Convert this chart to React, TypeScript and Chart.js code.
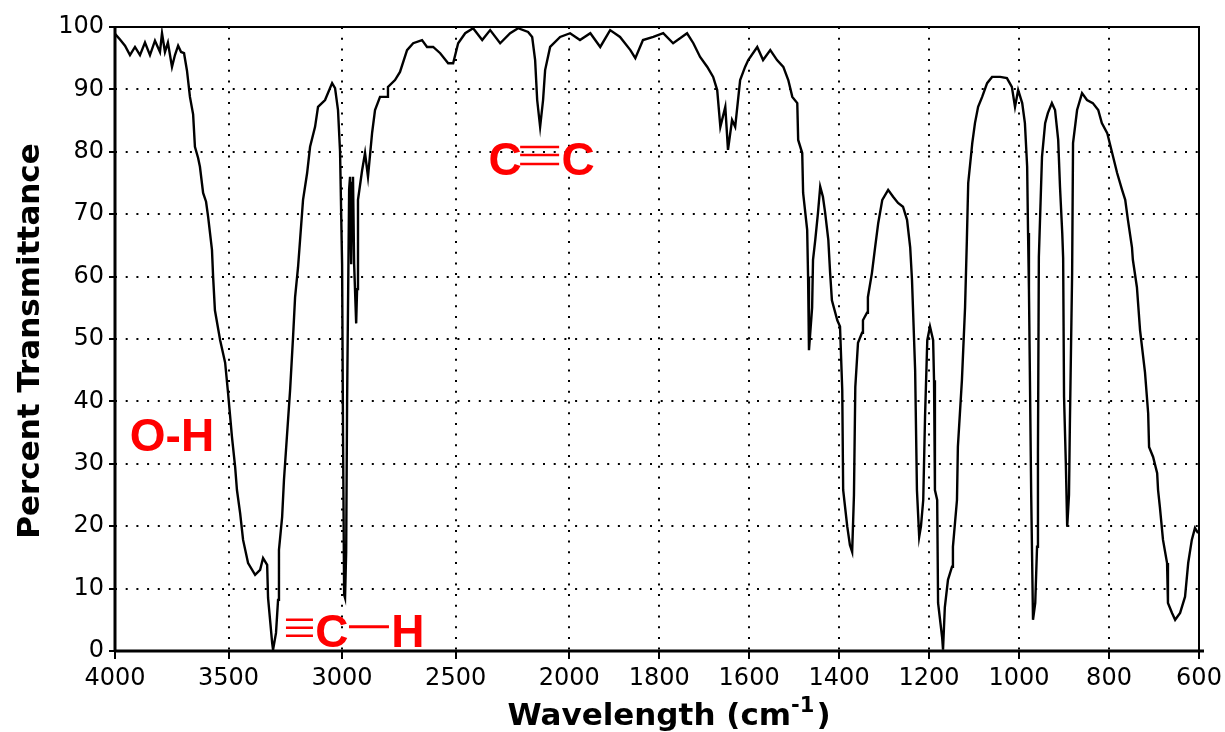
import React, { useEffect, useRef } from 'react';
import { Chart, registerables, LinearScale } from 'chart.js';

// ---- data (wavenumber in cm^-1, percent transmittance) ----
const WAVENUMBERS = [
  4000, 3978, 3956, 3934, 3912, 3890, 3868, 3846, 3824, 3802,
  3793, 3780, 3767, 3749, 3736, 3722, 3709, 3696, 3683, 3670,
  3656, 3648, 3634, 3626, 3612, 3599, 3590, 3573, 3568, 3560,
  3537, 3515, 3502, 3485, 3471, 3463, 3449, 3436, 3414, 3383,
  3361, 3348, 3330, 3326, 3308, 3304, 3291, 3282, 3278, 3264,
  3256, 3242, 3229, 3216, 3207, 3194, 3185, 3172, 3154, 3141,
  3119, 3106, 3075, 3044, 3031, 3018, 3009, 3000, 2996, 2991,
  2987, 2982, 2978, 2969, 2965, 2960, 2956, 2952, 2947, 2938,
  2934, 2930, 2912, 2899, 2886, 2868, 2855, 2833, 2802, 2798,
  2767, 2745, 2714, 2687, 2648, 2626, 2599, 2568, 2533, 2511,
  2489, 2458, 2423, 2383, 2348, 2304, 2260, 2225, 2181, 2163,
  2150, 2141, 2128, 2115, 2106, 2084, 2040, 1998, 1976, 1953,
  1931, 1909, 1887, 1864, 1853, 1836, 1813, 1791, 1769, 1738,
  1724, 1709, 1693, 1680, 1671, 1664, 1653, 1647, 1638, 1631,
  1620, 1609, 1602, 1582, 1569, 1553, 1538, 1524, 1513, 1504,
  1493, 1491, 1482, 1480, 1471, 1469, 1467, 1460, 1458, 1453,
  1447, 1442, 1436, 1431, 1424, 1420, 1416, 1404, 1398, 1393,
  1391, 1382, 1376, 1371, 1367, 1364, 1358, 1349, 1347, 1338,
  1336, 1327, 1320, 1313, 1304, 1291, 1280, 1269, 1258, 1249,
  1242, 1238, 1231, 1227, 1222, 1218, 1213, 1209, 1204, 1198,
  1191, 1189, 1187, 1182, 1180, 1171, 1169, 1165, 1158, 1149,
  1147, 1138, 1136, 1127, 1120, 1116, 1113, 1104, 1098, 1091,
  1082, 1071, 1060, 1042, 1027, 1016, 1009, 1002, 993, 987,
  982, 980, 978, 973, 969, 964, 960, 958, 956, 949,
  942, 936, 927, 920, 913, 909, 904, 902, 900, 896,
  893, 889, 887, 882, 880, 871, 860, 849, 836, 824,
  816, 804, 793, 782, 771, 764, 758, 749, 747, 738,
  731, 720, 713, 711, 702, 693, 691, 687, 680, 671,
  669, 660, 653, 642, 631, 624, 616, 609, 602,
];

const TRANSMITTANCE = [
  98.9, 98.0, 97.0, 95.5, 96.8, 95.5, 97.5, 95.5, 97.8, 96.0,
  99.0, 96.0, 97.5, 93.6, 95.5, 97.0, 96.0, 95.8, 93.0, 88.8,
  86.0, 80.8, 79.0, 77.6, 73.4, 72.0, 69.6, 64.3, 60.0, 54.6,
  49.8, 46.2, 41.3, 34.3, 29.5, 25.8, 22.1, 17.8, 14.1, 12.2,
  13.0, 14.9, 13.8, 8.5, 1.3, 0.2, 2.9, 8.2, 16.2, 21.5,
  27.4, 34.9, 41.8, 50.3, 56.7, 61.5, 65.9, 72.3, 76.6, 80.8,
  84.0, 87.2, 88.3, 91.0, 90.2, 86.7, 80.0, 62.0, 35.0, 9.0,
  8.5, 16.0, 40.0, 74.0, 76.0, 62.0, 75.0, 76.0, 62.0, 52.5,
  58.0, 72.3, 77.0, 79.8, 76.0, 83.0, 86.7, 88.8, 88.8, 90.4,
  91.5, 92.8, 96.3, 97.4, 97.9, 96.8, 96.8, 95.8, 94.2, 94.2,
  97.4, 99.0, 99.8, 97.9, 99.5, 97.4, 99.0, 99.8, 99.2, 98.4,
  94.7, 88.3, 84.0, 88.3, 93.1, 96.8, 98.4, 99.0, 97.9, 99.0,
  96.8, 99.5, 98.4, 96.3, 95.0, 97.9, 98.4, 99.0, 97.4, 99.0,
  97.4, 95.2, 93.6, 92.0, 89.9, 84.0, 87.2, 80.3, 85.1, 84.0,
  91.5, 93.6, 94.7, 96.8, 94.7, 96.3, 94.7, 93.6, 91.5, 88.8,
  87.8, 81.9, 79.8, 73.4, 67.5, 60.0, 48.2, 55.0, 62.7, 65.9,
  70.2, 74.4, 72.8, 70.2, 65.9, 60.6, 56.2, 53.0, 52.0, 41.8,
  25.8, 20.0, 17.0, 15.9, 25.0, 42.3, 49.4, 51.0, 53.0, 54.2,
  56.7, 60.6, 64.7, 68.6, 72.3, 73.9, 72.8, 71.8, 71.2, 69.1,
  64.7, 59.5, 45.0, 25.8, 18.3, 20.0, 24.2, 37.5, 49.8, 52.0,
  49.8, 43.4, 25.8, 24.2, 7.7, 2.2, 0.2, 7.0, 11.4, 13.5,
  16.7, 24.2, 32.7, 43.4, 55.1, 65.9, 75.0, 81.4, 84.6, 87.2,
  88.8, 91.0, 92.0, 92.0, 91.8, 90.4, 87.2, 89.9, 87.8, 84.6,
  77.6, 67.0, 57.9, 25.0, 5.0, 7.7, 16.7, 31.7, 63.1, 79.2,
  84.6, 86.2, 87.8, 86.7, 81.9, 74.4, 67.0, 63.0, 40.7, 30.0,
  19.9, 25.0, 36.5, 60.6, 81.4, 86.7, 89.4, 88.3, 87.8, 86.7,
  84.6, 83.0, 79.8, 76.6, 73.9, 72.3, 69.1, 64.7, 62.7, 58.3,
  51.4, 44.6, 38.1, 32.7, 31.1, 28.5, 25.8, 23.1, 17.8, 14.1,
  7.7, 6.1, 5.0, 6.1, 8.7, 14.1, 17.8, 19.7, 18.9,
];

const X_TICKS = [4000, 3500, 3000, 2500, 2000, 1800, 1600, 1400, 1200, 1000, 800, 600];
const Y_TICKS = [0, 10, 20, 30, 40, 50, 60, 70, 80, 90, 100];

const Y_TITLE = 'Percent Transmittance';
const X_TITLE_MAIN = 'Wavelength (cm';
const X_TITLE_SUP = '-1';
const X_TITLE_END = ')';

const LABEL_OH = 'O-H';
const LABEL_C = 'C';
const LABEL_H = 'H';

const RED = '#ff0000';

// The spectrometer's axis changes scale at 2000 cm^-1 (twice as spread below it).
const BREAK = 0.419;
function waveToFrac(w: number) {
  return w >= 2000 ? ((4000 - w) / 2000) * BREAK : BREAK + ((2000 - w) / 1400) * (1 - BREAK);
}
function fracToWave(d: number) {
  return d <= BREAK ? 4000 - (d / BREAK) * 2000 : 2000 - ((d - BREAK) / (1 - BREAK)) * 1400;
}

class WaveScale extends LinearScale {
  static id = 'wavenumber';
  static defaults = LinearScale.defaults;
  buildTicks() {
    this.start = this.min;
    this.end = this.max;
    return X_TICKS.map((v) => ({ value: v }));
  }
  getPixelForValue(value: any) {
    if (value === null || value === undefined || isNaN(value)) return NaN;
    return this.getPixelForDecimal(waveToFrac(value));
  }
  getValueForPixel(pixel: number) {
    return fracToWave(this.getDecimalForPixel(pixel));
  }
}

Chart.register(...registerables, WaveScale);

const decorPlugin = {
  id: 'irDecor',
  afterDraw(chart: any) {
    const { ctx, chartArea: a, scales } = chart;
    const xs = scales.x;
    const ys = scales.y;
    ctx.save();
    // frame
    ctx.strokeStyle = '#000';
    ctx.setLineDash([]);
    ctx.lineWidth = 2;
    ctx.strokeRect(a.left, a.top, a.right - a.left, a.bottom - a.top);
    ctx.lineWidth = 3;
    ctx.beginPath();
    ctx.moveTo(a.left, a.top - 1);
    ctx.lineTo(a.left, a.bottom + 1);
    ctx.moveTo(a.left - 1, a.bottom);
    ctx.lineTo(a.right + 5, a.bottom);
    ctx.stroke();
    // tick marks
    ctx.lineWidth = 2;
    ctx.beginPath();
    for (const v of X_TICKS) {
      const px = Math.round(xs.getPixelForValue(v));
      ctx.moveTo(px, a.bottom);
      ctx.lineTo(px, a.bottom + 8);
    }
    for (const v of Y_TICKS) {
      const py = Math.round(ys.getPixelForValue(v));
      ctx.moveTo(a.left - 6, py);
      ctx.lineTo(a.left, py);
    }
    ctx.stroke();

    // axis titles
    ctx.fillStyle = '#000';
    ctx.font = 'bold 31px "DejaVu Sans"';
    ctx.textAlign = 'center';
    ctx.textBaseline = 'middle';
    ctx.save();
    ctx.translate(31, 341);
    ctx.rotate(-Math.PI / 2);
    ctx.fillText(Y_TITLE, 0, 0);
    ctx.restore();

    ctx.textAlign = 'left';
    ctx.textBaseline = 'alphabetic';
    const mainFont = 'bold 31px "DejaVu Sans"';
    const supFont = 'bold 21px "DejaVu Sans"';
    ctx.font = mainFont;
    const wMain = ctx.measureText(X_TITLE_MAIN).width;
    const wEnd = ctx.measureText(X_TITLE_END).width;
    ctx.font = supFont;
    const wSup = ctx.measureText(X_TITLE_SUP).width;
    const total = wMain + wSup + 2 + wEnd;
    let tx = 669 - total / 2;
    const base = 725;
    ctx.font = mainFont;
    ctx.fillText(X_TITLE_MAIN, tx, base);
    tx += wMain;
    ctx.font = supFont;
    ctx.fillText(X_TITLE_SUP, tx, base - 13);
    tx += wSup + 2;
    ctx.font = mainFont;
    ctx.fillText(X_TITLE_END, tx, base);

    // annotations
    ctx.fillStyle = RED;
    ctx.strokeStyle = RED;
    ctx.font = 'bold 46px "Liberation Sans"';
    ctx.textAlign = 'center';
    ctx.textBaseline = 'alphabetic';

    // O-H
    {
      const ax = xs.getPixelForValue(3749);
      const ay = ys.getPixelForValue(34);
      ctx.fillText(LABEL_OH, ax, ay + 12);
    }
    // C≡C
    {
      const ax = xs.getPixelForValue(2128);
      const ay = ys.getPixelForValue(79);
      ctx.fillText(LABEL_C, ax - 35, ay + 17);
      ctx.fillText(LABEL_C, ax + 38, ay + 17);
      ctx.lineWidth = 2.5;
      ctx.beginPath();
      for (const dy of [-11, -3, 6]) {
        ctx.moveTo(ax - 20, ay + dy);
        ctx.lineTo(ax + 19, ay + dy);
      }
      ctx.stroke();
    }
    // ≡C—H
    {
      const ax = xs.getPixelForValue(3049);
      const ay = ys.getPixelForValue(3.4);
      ctx.lineWidth = 2.5;
      ctx.beginPath();
      for (const dy of [-10, -2, 6]) {
        ctx.moveTo(ax - 45, ay + dy);
        ctx.lineTo(ax - 18, ay + dy);
      }
      ctx.stroke();
      ctx.fillText(LABEL_C, ax + 1, ay + 17);
      ctx.lineWidth = 3;
      ctx.beginPath();
      ctx.moveTo(ax + 18, ay - 3);
      ctx.lineTo(ax + 58, ay - 3);
      ctx.stroke();
      ctx.fillText(LABEL_H, ax + 77, ay + 17);
    }
    ctx.restore();
  },
};

export default function App() {
  const canvasRef = useRef<HTMLCanvasElement | null>(null);

  useEffect(() => {
    document.body.style.margin = '0';
    const canvas = canvasRef.current;
    if (!canvas) return;
    const points = WAVENUMBERS.map((w, i) => ({ x: w, y: TRANSMITTANCE[i] }));
    const tickFont = { family: '"DejaVu Sans"', size: 24 };
    const chart = new Chart(canvas, {
      type: 'line',
      data: {
        datasets: [
          {
            data: points,
            borderColor: '#000',
            borderWidth: 2.4,
            pointRadius: 0,
            tension: 0,
            fill: false,
          },
        ],
      },
      options: {
        animation: false,
        responsive: false,
        devicePixelRatio: 1,
        layout: { padding: { top: 27, right: 26, left: 0, bottom: 0 } },
        plugins: { legend: { display: false }, tooltip: { enabled: false }, title: { display: false } },
        scales: {
          x: {
            type: 'wavenumber',
            min: 600,
            max: 4000,
            afterFit: (s: any) => { s.height = 81; s.paddingLeft = 0; s.paddingRight = 0; },
            grid: { color: '#000', lineWidth: 2, drawTicks: false, borderDash: [2, 8.7] },
            border: { display: false, dash: [2, 8.7] },
            ticks: {
              autoSkip: false,
              maxRotation: 0,
              padding: 13,
              color: '#000',
              font: tickFont,
              callback: (v: any) => String(v),
            },
          },
          y: {
            type: 'linear',
            min: 0,
            max: 100,
            afterFit: (s: any) => { s.width = 115; s.paddingTop = 0; s.paddingBottom = 0; },
            afterBuildTicks: (s: any) => { s.ticks = Y_TICKS.map((v) => ({ value: v })); },
            grid: { color: '#000', lineWidth: 2, drawTicks: false, borderDash: [2, 8.7] },
            border: { display: false, dash: [2, 8.7] },
            ticks: {
              padding: 11,
              color: '#000',
              font: tickFont,
              callback: (v: any) => String(v),
            },
          },
        },
      },
      plugins: [decorPlugin],
    });
    return () => chart.destroy();
  }, []);

  return (
    <div style={{ width: 1225, height: 732, background: '#fff' }}>
      <canvas ref={canvasRef} width={1225} height={732} />
    </div>
  );
}
